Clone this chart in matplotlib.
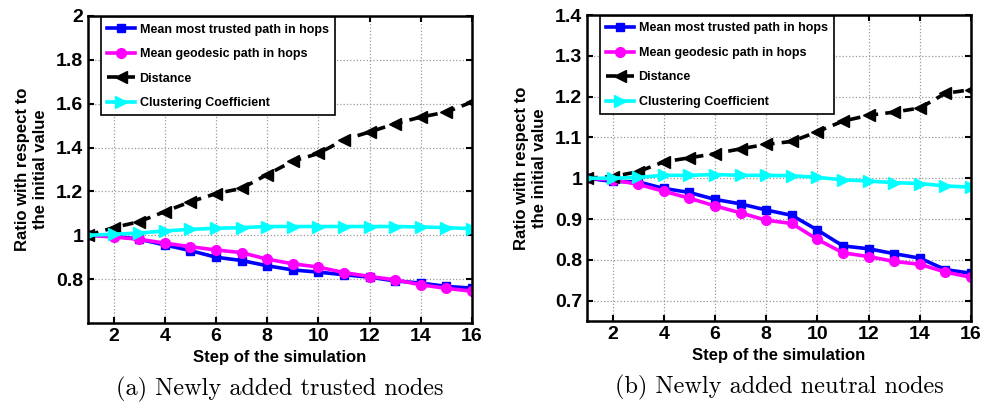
import numpy as np
import matplotlib
matplotlib.use("Agg")
import matplotlib.pyplot as plt
from matplotlib.ticker import FuncFormatter

plt.rcParams['font.family'] = ['Liberation Sans', 'DejaVu Sans']
plt.rcParams['font.weight'] = 'bold'

steps = list(range(1, 17))
labels = ["Mean most trusted path in hops", "Mean geodesic path in hops",
          "Distance", "Clustering Coefficient"]

# (a) newly added trusted nodes
trusted_a = [1.0, 0.997, 0.982, 0.956, 0.93, 0.90, 0.885, 0.861, 0.842, 0.832,
             0.82, 0.809, 0.792, 0.782, 0.767, 0.759]
geodesic_a = [1.0, 0.992, 0.982, 0.964, 0.948, 0.933, 0.921, 0.891, 0.87, 0.855,
              0.83, 0.812, 0.797, 0.774, 0.758, 0.745]
distance_a = [1.0, 1.035, 1.062, 1.108, 1.153, 1.19, 1.214, 1.277, 1.338, 1.373,
              1.436, 1.471, 1.509, 1.539, 1.562, 1.608]
cluster_a = [1.0, 1.005, 1.01, 1.02, 1.027, 1.032, 1.035, 1.04, 1.04, 1.04,
             1.04, 1.04, 1.04, 1.038, 1.035, 1.03]

# (b) newly added neutral nodes
trusted_b = [1.0, 0.992, 0.991, 0.975, 0.965, 0.948, 0.937, 0.922, 0.909, 0.873,
             0.834, 0.827, 0.815, 0.804, 0.776, 0.767]
geodesic_b = [1.0, 0.996, 0.985, 0.968, 0.951, 0.932, 0.915, 0.897, 0.889, 0.85,
              0.817, 0.808, 0.796, 0.789, 0.77, 0.757]
distance_b = [1.0, 1.004, 1.016, 1.04, 1.05, 1.06, 1.072, 1.083, 1.09, 1.114,
              1.14, 1.154, 1.162, 1.172, 1.208, 1.217]
cluster_b = [1.0, 1.0, 1.002, 1.007, 1.007, 1.009, 1.007, 1.007, 1.006, 1.002,
             0.996, 0.993, 0.989, 0.987, 0.981, 0.978]

W, H = 981, 404
fig = plt.figure(figsize=(W / 100, H / 100), dpi=100)


def panel(rect, tr, ge, di, cl, ylim, yticks, caption):
    ax = fig.add_axes(rect)
    ax.plot(steps, tr, '-s', color='blue', lw=2.6, ms=6, label=labels[0])
    ax.plot(steps, ge, '-o', color='magenta', lw=2.6, ms=7, label=labels[1])
    ax.plot(steps, di, '--<', color='black', lw=2.6, ms=9, label=labels[2],
            dashes=(3, 2))
    ax.plot(steps, cl, '->', color='cyan', lw=2.6, ms=9, label=labels[3])
    ax.set_xlim(1, 16)
    ax.set_ylim(*ylim)
    ax.set_xticks(range(2, 17, 2))
    ax.set_yticks(yticks)
    ax.yaxis.set_major_formatter(FuncFormatter(lambda v, p: '%g' % round(v, 2)))
    ax.grid(True, linestyle=':', color='#999999', lw=0.9)
    ax.tick_params(direction='in', top=True, right=True, labelsize=14, width=1.5, length=4)
    for s in ax.spines.values():
        s.set_linewidth(1.8)
    ax.set_xlabel("Step of the simulation", fontsize=12, fontweight='bold', labelpad=4)
    ax.set_ylabel("Ratio with respect to\nthe initial value", fontsize=12,
                  fontweight='bold', labelpad=6)
    leg = ax.legend(loc='upper left', bbox_to_anchor=(0.03, 1.0), fontsize=9,
                    fancybox=False, framealpha=1, edgecolor='black',
                    handlelength=2.2, borderpad=0.5, labelspacing=1.0,
                    handletextpad=0.4, borderaxespad=0.1)
    leg.get_frame().set_linewidth(1.2)
    for t in leg.get_texts():
        t.set_fontweight('bold')
    ax.text(0.5, -0.175, caption, transform=ax.transAxes, ha='center', va='top',
            fontsize=17.5, fontfamily='cmr10', fontweight='normal')
    return ax


panel([88 / W, 1 - 323 / H, 384 / W, 307 / H], trusted_a, geodesic_a, distance_a,
      cluster_a, (0.6, 2.0), [0.8, 1.0, 1.2, 1.4, 1.6, 1.8, 2.0],
      "(a) Newly added trusted nodes")
panel([587 / W, 1 - 321 / H, 384 / W, 306 / H], trusted_b, geodesic_b, distance_b,
      cluster_b, (0.65, 1.4), [0.7, 0.8, 0.9, 1.0, 1.1, 1.2, 1.3, 1.4],
      "(b) Newly added neutral nodes")

fig.savefig("out.png", dpi=100)
